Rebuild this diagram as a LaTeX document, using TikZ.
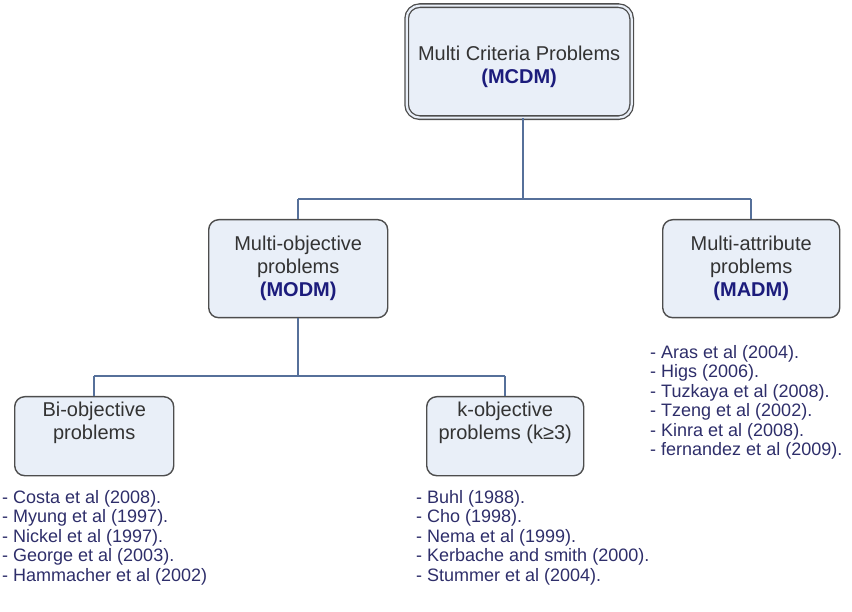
\documentclass[tikz,border=0pt]{standalone}
\usepackage{fontspec}
\setmainfont{Liberation Sans}
\begin{document}
\definecolor{boxfill}{HTML}{E9EFF8}
\definecolor{boxline}{HTML}{4D4D4D}
\definecolor{linkline}{HTML}{56709A}
\definecolor{labeltext}{HTML}{333333}
\definecolor{acronym}{HTML}{1C1C7C}
\definecolor{reftext}{HTML}{2E2E6A}
\begin{tikzpicture}[x=1pt,y=-1pt,
  box/.style={draw=boxline, line width=1.4pt, fill=boxfill, rounded corners=10pt,
    anchor=north west, align=center, inner sep=0pt, text=labeltext,
    font=\fontsize{20}{23}\selectfont},
  topbox/.style={box, double=boxfill, double distance=2.2pt, line width=1.3pt, rounded corners=13pt},
  link/.style={draw=linkline, line width=1.8pt},
  reflist/.style={anchor=north west, align=left, inner sep=0pt, text=reftext,
    font=\fontsize{18}{19.5}\selectfont}]
\useasboundingbox (0,0) rectangle (852,612);

% boxes
\node[topbox, minimum width=225pt, minimum height=112pt] (mcdm) at (406,5)
  {\rule{0pt}{24pt}Multi Criteria Problems\\ \textcolor{acronym}{\textbf{(MCDM)}}};
\node[box, minimum width=179pt, minimum height=98pt] (modm) at (208,219)
  {Multi-objective\\problems\\ \textcolor{acronym}{\textbf{(MODM)}}};
\node[box, minimum width=177pt, minimum height=98pt] (madm) at (662,219)
  {Multi-attribute\\problems\\ \textcolor{acronym}{\textbf{(MADM)}}};
\node[box, minimum width=159pt, minimum height=79pt] (bi) at (14,396)
  {Bi-objective\\problems\\ \strut};
\node[box, minimum width=157pt, minimum height=79pt] (kobj) at (426,396)
  {k-objective\\problems (k≥3)\\ \strut};

% tree connectors
\coordinate (mcdmfoot) at ([xshift=4pt]mcdm.south);
\coordinate (split1) at (0,199);
\coordinate (split2) at (0,376);
\draw[link] (mcdmfoot) -- (mcdmfoot |- split1);
\draw[link] (modm.north |- split1) -- (madm.north |- split1);
\draw[link] (modm.north |- split1) -- (modm.north);
\draw[link] (madm.north |- split1) -- (madm.north);
\draw[link] (modm.south) -- (modm.south |- split2);
\draw[link] (bi.north |- split2) -- (kobj.north |- split2);
\draw[link] (bi.north |- split2) -- (bi.north);
\draw[link] (kobj.north |- split2) -- (kobj.north);

% references
\node[reflist] (madmrefs) at (650,345)
  {- Aras et al (2004).\\- Higs (2006).\\- Tuzkaya et al (2008).\\- Tzeng et al (2002).\\- Kinra et al (2008).\\- fernandez et al (2009).};
\node[reflist] (birefs) at (2,490)
  {- Costa et al (2008).\\- Myung et al (1997).\\- Nickel et al (1997).\\- George et al (2003).\\- Hammacher et al (2002)};
\node[reflist] (krefs) at (416,490)
  {- Buhl (1988).\\- Cho (1998).\\- Nema et al (1999).\\- Kerbache and smith (2000).\\- Stummer et al (2004).};
\end{tikzpicture}
\end{document}
